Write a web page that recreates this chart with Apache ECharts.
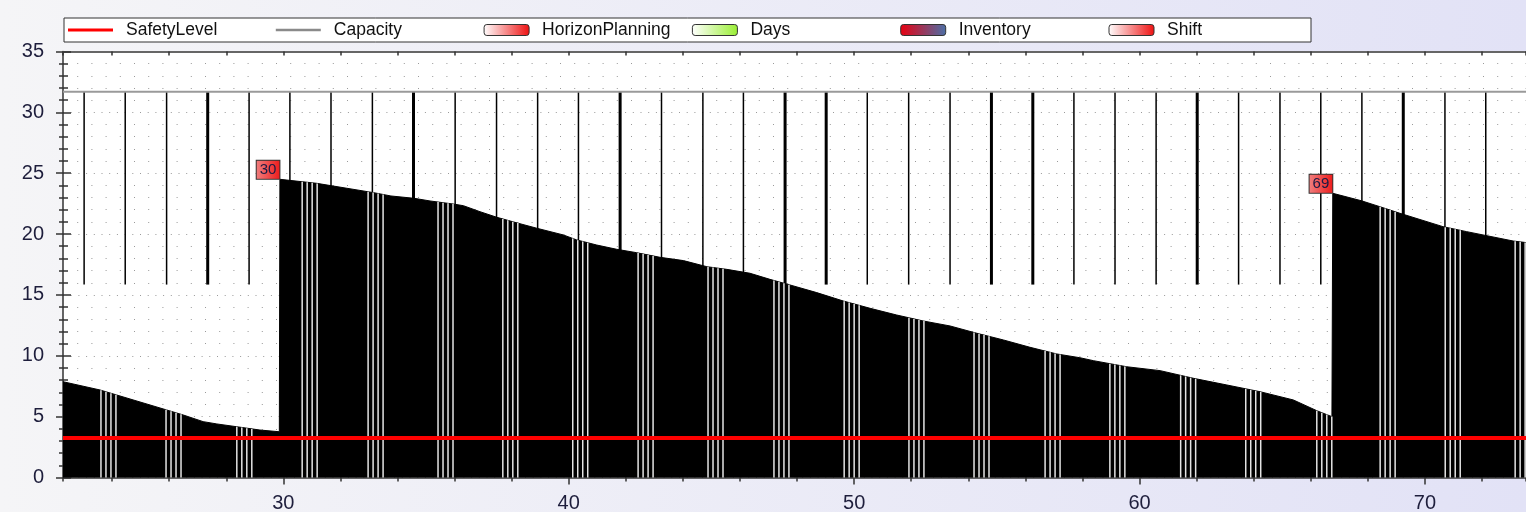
<!DOCTYPE html>
<html>
<head>
<meta charset="utf-8">
<script src="https://cdn.jsdelivr.net/npm/echarts@6/dist/echarts.min.js"></script>
<style>
html,body{margin:0;padding:0;background:#f0f0f4;}
#c{width:1526px;height:512px;}
</style>
</head>
<body>
<div id="c"></div>
<script>
// ---- data ----
const inventoryX = [22.28, 23.58, 24.16, 25.91, 26.49, 27.19, 27.67, 28.37, 29.18, 29.86, 29.88,
  31.17, 33.17, 33.77, 34.58, 35.14, 36.01, 36.31, 36.89, 37.48, 38.23, 38.88, 39.81, 40.28, 40.98,
  41.68, 42.38, 43.2, 44.02, 44.84, 45.54, 46.35, 47.05, 47.75, 48.69, 49.62, 50.56, 51.49, 52.42,
  53.36, 54.3, 55.23, 56.16, 57.1, 57.91, 58.38, 59.55, 60.72, 61.89, 63.06, 64.22, 65.39, 66.21,
  66.74, 66.77, 67.77, 68.42, 69.12, 70.63, 71.46, 73.09, 73.54];
const inventoryY = [7.87, 7.19, 6.78, 5.55, 5.14, 4.59, 4.4, 4.17, 3.9, 3.76, 24.5,
  24.17, 23.4, 23.13, 22.94, 22.72, 22.45, 22.33, 21.84, 21.38, 20.89, 20.48, 19.93, 19.52, 19.1,
  18.75, 18.47, 18.09, 17.82, 17.32, 17.1, 16.78, 16.28, 15.82, 15.19, 14.5, 13.9, 13.35, 12.86,
  12.45, 11.85, 11.3, 10.7, 10.15, 9.84, 9.6, 9.1, 8.78, 8.15, 7.6, 7.05, 6.37, 5.49,
  5.0, 23.35, 22.74, 22.25, 21.71, 20.61, 20.2, 19.43, 19.3];

const safetyLevel = 3.25;
const capacity = 31.7;
const shiftLineLow = 15.85;

const shiftLines = [23.02, 24.46, 25.91, 28.80, 30.23, 31.67, 33.12, 36.02, 37.47, 38.91, 40.34,
  43.25, 44.70, 46.12, 50.46, 51.91, 53.36, 57.70, 59.14, 60.58, 63.47, 64.92, 66.35, 67.79,
  70.70, 72.13];
const dayLines = [27.35, 34.56, 41.80, 47.58, 49.02, 54.81, 56.26, 62.02, 69.24];

const gapGroupStarts = [23.61, 25.89, 28.37, 30.66, 32.97, 35.42, 37.69, 40.14, 42.43, 44.88,
  47.19, 49.65, 51.92, 54.20, 56.69, 58.96, 61.44, 63.72, 66.21, 68.43, 70.71, 73.16];
const gapOffsets = [0, 0.175, 0.35, 0.525];

const horizonX = [29.88, 66.77];
const horizonY = [24.5, 23.35];
const horizonLabels = ['30', '69'];

const xMin = 22.28, xMax = 73.54;
const yMin = 0, yMax = 35, yStep = 5;

const legendNames = ['SafetyLevel', 'Capacity', 'HorizonPlanning', 'Days', 'Inventory', 'Shift'];

// ---- helpers ----
function grad(c0, c1) {
  return new echarts.graphic.LinearGradient(0, 0, 1, 0, [{offset: 0, color: c0}, {offset: 1, color: c1}]);
}
function inventoryAt(x) {
  for (let i = 0; i < inventoryX.length - 1; i++) {
    const x0 = inventoryX[i], x1 = inventoryX[i + 1];
    if (x >= x0 && x <= x1 && x1 > x0) {
      return inventoryY[i] + (inventoryY[i + 1] - inventoryY[i]) * (x - x0) / (x1 - x0);
    }
  }
  return inventoryY[inventoryY.length - 1];
}
function vline(width, color) {
  return function (params, api) {
    const p0 = api.coord([api.value(0), api.value(1)]);
    const p1 = api.coord([api.value(0), api.value(2)]);
    return {type: 'line', shape: {x1: p0[0], y1: p0[1], x2: p1[0], y2: p1[1]},
      style: {stroke: color, lineWidth: width}};
  };
}

const gapData = [];
gapGroupStarts.forEach(s => gapOffsets.forEach(o => {
  const x = s + o;
  gapData.push([x, 0, inventoryAt(x)]);
}));

const FONT = 'Liberation Sans, Arial, sans-serif';
const LABEL_COLOR = '#1e1e3c';

const chart = echarts.init(document.getElementById('c'), null, {renderer: 'canvas'});
const option = {
  animation: false,
  backgroundColor: grad('#f5f5f7', '#e2e2f6'),
  textStyle: {fontFamily: FONT},
  grid: {left: 63, right: 0, top: 51.5, bottom: 34.5, show: true, backgroundColor: '#ffffff',
    borderWidth: 0, containLabel: false, outerBoundsMode: 'none'},
  legend: {
    left: 64, top: 18, orient: 'horizontal',
    itemWidth: 45, itemHeight: 11, itemGap: 7.8,
    padding: [3, 2, 3, 4],
    backgroundColor: '#ffffff', borderColor: '#333', borderWidth: 1,
    selectedMode: false,
    textStyle: {fontFamily: FONT, fontSize: 17.5, color: '#111', width: 142, lineHeight: 16, padding: [0, 0, 0, 8]},
    data: [
      {name: legendNames[0], icon: 'path://M0,0H45V3H0Z', itemStyle: {color: '#ff0000', borderWidth: 0}},
      {name: legendNames[1], icon: 'path://M0,0H45V2.6H0Z', itemStyle: {color: '#8a8a8a', borderWidth: 0}},
      {name: legendNames[2], icon: 'roundRect', itemStyle: {color: grad('#ffffff', '#ee1111'), borderColor: '#333', borderWidth: 1}},
      {name: legendNames[3], icon: 'roundRect', itemStyle: {color: grad('#ffffff', '#99ee33'), borderColor: '#333', borderWidth: 1}},
      {name: legendNames[4], icon: 'roundRect', itemStyle: {color: grad('#e80010', '#4a70a8'), borderColor: '#333', borderWidth: 1}},
      {name: legendNames[5], icon: 'roundRect', itemStyle: {color: grad('#ffffff', '#ee1111'), borderColor: '#333', borderWidth: 1}}
    ]
  },
  xAxis: [
    {type: 'value', gridIndex: 0, min: xMin, max: xMax, splitNumber: 25, position: 'bottom',
      axisLine: {show: true, lineStyle: {color: '#333', width: 1.5}},
      axisTick: {show: true, length: 4, lineStyle: {color: '#333', width: 1.5}},
      axisLabel: {show: false}, splitLine: {show: false}},
    {type: 'value', gridIndex: 0, min: xMin, max: xMax, splitNumber: 5, position: 'bottom',
      axisLine: {show: false},
      axisTick: {show: true, length: 7, lineStyle: {color: '#333', width: 1.5}},
      axisLabel: {show: true, showMinLabel: false, showMaxLabel: false, fontFamily: FONT, fontSize: 20, color: LABEL_COLOR, margin: 16},
      splitLine: {show: false}},
    {type: 'value', gridIndex: 0, min: xMin, max: xMax, splitNumber: 25, position: 'top',
      axisLine: {show: true, lineStyle: {color: '#666', width: 2}},
      axisTick: {show: true, inside: true, length: 4, lineStyle: {color: '#333', width: 1.5}},
      axisLabel: {show: false}, splitLine: {show: false}}
  ],
  yAxis: [
    {type: 'value', gridIndex: 0, min: yMin, max: yMax, interval: yStep, position: 'left',
      axisLine: {show: true, lineStyle: {color: '#333', width: 1.5}},
      axisTick: {show: true, length: 7, lineStyle: {color: '#333', width: 1.5}},
      minorTick: {show: true, splitNumber: 5, length: 4, lineStyle: {color: '#333', width: 1.5}},
      axisLabel: {fontFamily: FONT, fontSize: 20, color: LABEL_COLOR, margin: 19},
      splitLine: {show: true, lineStyle: {type: [1, 6.7], color: '#9a9a9a', width: 1.2}},
      minorSplitLine: {show: true, lineStyle: {type: [1, 13.2], color: '#9a9a9a', width: 1.2}}},
    {type: 'value', gridIndex: 0, min: yMin, max: yMax, interval: yStep, position: 'left',
      axisLine: {show: false},
      axisTick: {show: true, inside: true, length: 8, lineStyle: {color: '#333', width: 1.5}},
      minorTick: {show: true, splitNumber: 5, length: 5, lineStyle: {color: '#333', width: 1.5}},
      axisLabel: {show: false}, splitLine: {show: false}}
  ],
  series: [
    {name: 'Inventory', type: 'line', xAxisIndex: 0, yAxisIndex: 0, z: 2,
      data: inventoryX.map((x, i) => [x, inventoryY[i]]),
      symbol: 'none', lineStyle: {width: 1, color: '#000'},
      itemStyle: {color: '#000'},
      areaStyle: {color: '#000', opacity: 1, origin: 'start'}},
    {name: 'Shift', type: 'custom', xAxisIndex: 0, yAxisIndex: 0, z: 3,
      encode: {x: 0, y: [1, 2]},
      renderItem: vline(1.5, '#000'),
      data: shiftLines.map(x => [x, shiftLineLow, capacity])},
    {name: 'Days', type: 'custom', xAxisIndex: 0, yAxisIndex: 0, z: 3,
      encode: {x: 0, y: [1, 2]},
      renderItem: vline(3, '#000'),
      data: dayLines.map(x => [x, shiftLineLow, capacity])},
    {name: 'gaps', type: 'custom', xAxisIndex: 0, yAxisIndex: 0, z: 4,
      encode: {x: 0, y: [1, 2]},
      renderItem: vline(1.5, '#e4e4e4'),
      data: gapData},
    {name: 'Capacity', type: 'line', xAxisIndex: 0, yAxisIndex: 0, z: 5,
      data: [[xMin, capacity], [xMax, capacity]], symbol: 'none',
      lineStyle: {color: '#9a9a9a', width: 2}, itemStyle: {color: '#9a9a9a'}},
    {name: 'SafetyLevel', type: 'line', xAxisIndex: 0, yAxisIndex: 0, z: 6,
      data: [[xMin, safetyLevel], [xMax, safetyLevel]], symbol: 'none',
      lineStyle: {color: '#ff0000', width: 4}, itemStyle: {color: '#ff0000'}},
    {name: 'HorizonPlanning', type: 'scatter', xAxisIndex: 0, yAxisIndex: 0, z: 7,
      data: horizonX.map((x, i) => [x, horizonY[i]]),
      symbolSize: 1, itemStyle: {color: 'rgba(0,0,0,0)', opacity: 1},
      emphasis: {disabled: true},
      label: {show: true, formatter: p => horizonLabels[p.dataIndex],
        position: [0, 0], align: 'right', verticalAlign: 'bottom', opacity: 1,
        fontFamily: FONT, fontSize: 15, lineHeight: 16, color: '#1a1a44',
        padding: [1, 3, 1, 3],
        backgroundColor: grad('#f08080', '#ee1a1a'), borderColor: '#333', borderWidth: 1}}
  ]
};
chart.setOption(option);
</script>
</body>
</html>
